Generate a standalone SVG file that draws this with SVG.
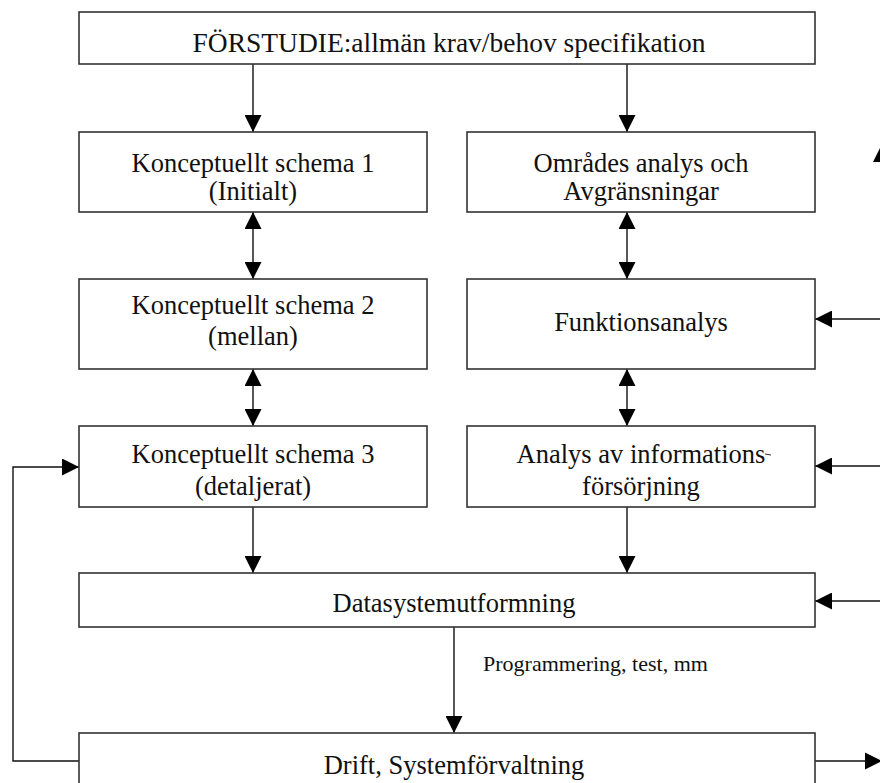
<svg xmlns="http://www.w3.org/2000/svg" width="880" height="783" viewBox="0 0 880 783">
  <style>
    .box { fill: #ffffff; stroke: #333333; stroke-width: 1.6; }
    .lbl { font-family: "Liberation Serif", "Times New Roman", serif; font-size: 26.5px; fill: #111111; text-anchor: middle; }
    .small { font-family: "Liberation Serif", "Times New Roman", serif; font-size: 22px; fill: #111111; }
    .wire { fill: none; stroke: #111111; stroke-width: 1.4; }
    .head { fill: #000000; }
  </style>
  <defs>
    <marker id="arrow" viewBox="0 0 17 17" refX="17" refY="8.5" markerWidth="17" markerHeight="17" markerUnits="userSpaceOnUse" orient="auto-start-reverse">
      <path d="M0,0 L17,8.5 L0,17 z" fill="#000000"/>
    </marker>
  </defs>

  <rect width="880" height="783" fill="#ffffff"/>

  <!-- connectors -->
  <g id="connectors">
    <!-- feasibility study down to both columns -->
    <line class="wire" x1="253" y1="64" x2="253" y2="132" marker-end="url(#arrow)"/>
    <line class="wire" x1="627" y1="64" x2="627" y2="132" marker-end="url(#arrow)"/>
    <!-- two-way links inside the left column -->
    <line class="wire" x1="253" y1="212" x2="253" y2="279" marker-start="url(#arrow)" marker-end="url(#arrow)"/>
    <line class="wire" x1="253" y1="369" x2="253" y2="426" marker-start="url(#arrow)" marker-end="url(#arrow)"/>
    <!-- two-way links inside the right column -->
    <line class="wire" x1="627" y1="212" x2="627" y2="279" marker-start="url(#arrow)" marker-end="url(#arrow)"/>
    <line class="wire" x1="627" y1="369" x2="627" y2="426" marker-start="url(#arrow)" marker-end="url(#arrow)"/>
    <!-- both columns into system design -->
    <line class="wire" x1="253" y1="507" x2="253" y2="573" marker-end="url(#arrow)"/>
    <line class="wire" x1="627" y1="507" x2="627" y2="573" marker-end="url(#arrow)"/>
    <!-- system design to operation -->
    <line class="wire" x1="454" y1="627" x2="454" y2="733" marker-end="url(#arrow)"/>
    <!-- feedback from operation back to schema 3 -->
    <path class="wire" d="M79,761 H13 V467 H79" marker-end="url(#arrow)"/>
    <!-- inputs entering from the right edge -->
    <line class="wire" x1="880" y1="319" x2="815" y2="319" marker-end="url(#arrow)"/>
    <line class="wire" x1="880" y1="466" x2="815" y2="466" marker-end="url(#arrow)"/>
    <line class="wire" x1="880" y1="601" x2="815" y2="601" marker-end="url(#arrow)"/>
    <!-- output leaving operation to the right -->
    <line class="wire" x1="815" y1="761" x2="865" y2="761"/>
    <polygon class="head" points="882,761 865,752.5 865,769.5"/>
    <!-- upward arrowhead at the right margin -->
    <polygon class="head" points="881.5,145 873,162 890,162"/>
  </g>

  <g id="forstudie">
    <rect class="box" x="79" y="12" width="736" height="52"/>
    <text class="lbl" x="449" y="52" textLength="513" lengthAdjust="spacingAndGlyphs">FÖRSTUDIE:allmän krav/behov specifikation</text>
  </g>

  <g id="schema1">
    <rect class="box" x="79" y="132" width="348" height="80"/>
    <text class="lbl" x="253" y="172">Konceptuellt schema 1</text>
    <text class="lbl" x="253" y="200">(Initialt)</text>
  </g>

  <g id="omrades">
    <rect class="box" x="467" y="132" width="348" height="80"/>
    <text class="lbl" x="641" y="172">Områdes analys och</text>
    <text class="lbl" x="641" y="200">Avgränsningar</text>
  </g>

  <g id="schema2">
    <rect class="box" x="79" y="279" width="348" height="90"/>
    <text class="lbl" x="253" y="314">Konceptuellt schema 2</text>
    <text class="lbl" x="253" y="345">(mellan)</text>
  </g>

  <g id="funktion">
    <rect class="box" x="467" y="279" width="348" height="90"/>
    <text class="lbl" x="641" y="331">Funktionsanalys</text>
  </g>

  <g id="schema3">
    <rect class="box" x="79" y="426" width="348" height="81"/>
    <text class="lbl" x="253" y="463">Konceptuellt schema 3</text>
    <text class="lbl" x="253" y="495">(detaljerat)</text>
  </g>

  <g id="informationsforsorjning">
    <rect class="box" x="467" y="426" width="348" height="81"/>
    <text class="lbl" x="641" y="463">Analys av informations</text>
    <line x1="765" y1="454" x2="771" y2="455" stroke="#333333" stroke-width="1.2"/>
    <text class="lbl" x="641" y="495">försörjning</text>
  </g>

  <g id="datasystem">
    <rect class="box" x="79" y="573" width="736" height="54"/>
    <text class="lbl" x="454" y="612">Datasystemutformning</text>
  </g>

  <text class="small" x="483" y="671">Programmering, test, mm</text>

  <g id="drift">
    <rect class="box" x="79" y="733" width="736" height="60"/>
    <text class="lbl" x="454" y="774">Drift, Systemförvaltning</text>
  </g>
</svg>
